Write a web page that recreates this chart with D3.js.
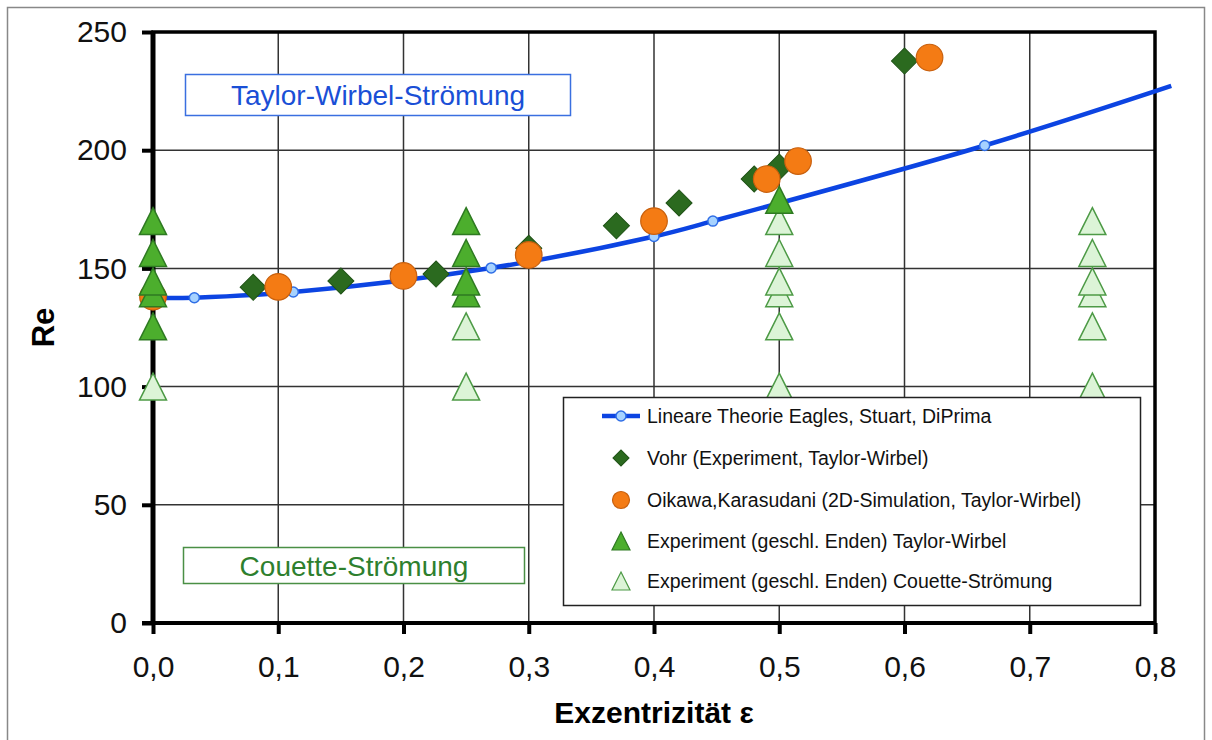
<!DOCTYPE html>
<html>
<head>
<meta charset="utf-8">
<script src="https://cdn.jsdelivr.net/npm/d3@7"></script>
<style>
  body { margin: 0; background: #fff; }
  svg { font-family: "Liberation Sans", Arial, sans-serif; }
</style>
</head>
<body>
<svg width="1212" height="740"></svg>
<script>
const width = 1212;
const height = 740;
const margin = { top: 32, right: 57, bottom: 117, left: 153 };

// linear theory (Eagles, Stuart, DiPrima)
const lineEps = [0, 0.033, 0.112, 0.27, 0.4, 0.447, 0.664, 0.813];
const lineRe = [137.5, 137.6, 140, 150.2, 163.5, 170, 202, 227.2];

// Vohr experiment
const vohrEps = [0.08, 0.15, 0.226, 0.3, 0.37, 0.42, 0.48, 0.5, 0.6];
const vohrRe = [142, 144.7, 147.6, 158.5, 168, 177.7, 187.8, 192.9, 237.7];

// Oikawa, Karasudani
const oikawaEps = [0, 0.1, 0.2, 0.3, 0.4, 0.49, 0.515, 0.62];
const oikawaRe = [138, 142.2, 146.8, 155.7, 170, 187.8, 195.4, 239.2];

// closed ends, Couette flow (drawn first)
const couetteEps = [0, 0.25, 0.25, 0.5, 0.5, 0.5, 0.5, 0.5, 0.5, 0.75, 0.75, 0.75, 0.75, 0.75, 0.75];
const couetteRe = [100, 100, 125.5, 100, 125.5, 139.5, 144.5, 156.5, 170, 100, 125.5, 139.5, 144.5, 156.5, 170];

// closed ends, Taylor vortices
const taylorEps = [0, 0, 0, 0, 0, 0.25, 0.25, 0.25, 0.25, 0.5];
const taylorRe = [125.5, 139.5, 144.5, 156.5, 170, 139.5, 144.5, 156.5, 170, 179];

const xTicks = [0, 0.1, 0.2, 0.3, 0.4, 0.5, 0.6, 0.7, 0.8];
const yTicks = [0, 50, 100, 150, 200, 250];

const legendLabels = [
  "Lineare Theorie Eagles, Stuart, DiPrima",
  "Vohr (Experiment, Taylor-Wirbel)",
  "Oikawa,Karasudani (2D-Simulation, Taylor-Wirbel)",
  "Experiment (geschl. Enden) Taylor-Wirbel",
  "Experiment (geschl. Enden) Couette-Strömung"
];

const svg = d3.select("svg");

const x = d3.scaleLinear().domain([0, 0.8]).range([margin.left, width - margin.right]);
const y = d3.scaleLinear().domain([0, 250]).range([height - margin.bottom, margin.top]);

// outer frame
svg.append("rect")
  .attr("x", 7.5).attr("y", 7.5)
  .attr("width", 1197).attr("height", 760)
  .attr("fill", "none").attr("stroke", "#888").attr("stroke-width", 1.5);

// grid
svg.append("g").selectAll("line")
  .data(xTicks.slice(1, -1))
  .join("line")
  .attr("x1", d => x(d)).attr("x2", d => x(d))
  .attr("y1", y(0)).attr("y2", y(250))
  .attr("stroke", "#333").attr("stroke-width", 1.5);

svg.append("g").selectAll("line")
  .data(yTicks.slice(1, -1))
  .join("line")
  .attr("x1", x(0)).attr("x2", x(0.8))
  .attr("y1", d => y(d)).attr("y2", d => y(d))
  .attr("stroke", "#333").attr("stroke-width", 1.5);

// region labels
function boxLabel(bx, by, bw, bh, text, col, border) {
  svg.append("rect")
    .attr("x", bx).attr("y", by).attr("width", bw).attr("height", bh)
    .attr("fill", "#fff").attr("stroke", border).attr("stroke-width", 1.5);
  svg.append("text")
    .attr("x", bx + bw / 2).attr("y", by + bh / 2 + 10)
    .attr("text-anchor", "middle")
    .attr("font-size", 28)
    .attr("fill", col)
    .text(text);
}
boxLabel(185.5, 74.5, 385, 41, "Taylor-Wirbel-Strömung", "#1a4fd6", "#3a6fe0");
boxLabel(183.5, 547.5, 341, 36, "Couette-Strömung", "#2e7f2e", "#4a8f45");

// plot frame + axes
svg.append("rect")
  .attr("x", x(0)).attr("y", y(250))
  .attr("width", x(0.8) - x(0)).attr("height", y(0) - y(250))
  .attr("fill", "none").attr("stroke", "#000").attr("stroke-width", 3.5);

const fmt = d => d3.format(".1f")(d).replace(".", ",");

const xAxis = svg.append("g")
  .attr("transform", `translate(0,${y(0)})`)
  .call(d3.axisBottom(x).tickValues(xTicks).tickFormat(fmt).tickSize(11).tickPadding(22));

const yAxis = svg.append("g")
  .attr("transform", `translate(${x(0)},0)`)
  .call(d3.axisLeft(y).tickValues(yTicks).tickSize(11).tickPadding(15));

[xAxis, yAxis].forEach(g => {
  g.select(".domain").remove();
  g.selectAll(".tick line").attr("stroke", "#000").attr("stroke-width", 4);
  g.selectAll(".tick text")
    .attr("font-family", "'Liberation Sans', Arial, sans-serif")
    .attr("font-size", 30).attr("fill", "#111");
});

svg.append("line")
  .attr("x1", x(0)).attr("x2", x(0))
  .attr("y1", y(250) - 1).attr("y2", y(0) + 2)
  .attr("stroke", "#000").attr("stroke-width", 5);
svg.append("line")
  .attr("x1", x(0) - 11).attr("x2", x(0.8))
  .attr("y1", y(0)).attr("y2", y(0))
  .attr("stroke", "#000").attr("stroke-width", 4);

// axis titles
svg.append("text")
  .attr("transform", `translate(54,${(y(0) + y(250)) / 2}) rotate(-90)`)
  .attr("text-anchor", "middle")
  .attr("font-size", 31).attr("font-weight", "bold")
  .text("Re");

svg.append("text")
  .attr("x", (x(0) + x(0.8)) / 2).attr("y", 723)
  .attr("text-anchor", "middle")
  .attr("font-size", 30).attr("font-weight", "bold")
  .text("Exzentrizität ε");

// theory line
const linePts = lineEps.map((e, i) => [e, lineRe[i]]);
svg.append("path")
  .datum(linePts)
  .attr("fill", "none")
  .attr("stroke", "#0c44e2")
  .attr("stroke-width", 4.5)
  .attr("d", d3.line().x(d => x(d[0])).y(d => y(d[1])).curve(d3.curveCatmullRom));

svg.append("g").selectAll("circle")
  .data(linePts.filter(d => d[0] <= 0.8))
  .join("circle")
  .attr("cx", d => x(d[0])).attr("cy", d => y(d[1]))
  .attr("r", 5)
  .attr("fill", "#a6d2ff").attr("stroke", "#2f6ee6").attr("stroke-width", 1.5);

// symbols
const diamond = d3.symbol().type(d3.symbolSquare).size(340)();
const tri = "M0,-13.5L13.5,13.5L-13.5,13.5Z";

svg.append("g").selectAll("path")
  .data(vohrEps.map((e, i) => [e, vohrRe[i]]))
  .join("path")
  .attr("d", diamond)
  .attr("transform", d => `translate(${x(d[0])},${y(d[1])}) rotate(45)`)
  .attr("fill", "#2b6a1f").attr("stroke", "#1f5216").attr("stroke-width", 1);

svg.append("g").selectAll("circle")
  .data(oikawaEps.map((e, i) => [e, oikawaRe[i]]))
  .join("circle")
  .attr("cx", d => x(d[0])).attr("cy", d => y(d[1]))
  .attr("r", 13.3)
  .attr("fill", "#f47b14").attr("stroke", "#c8600e").attr("stroke-width", 1.2);

svg.append("g").selectAll("path")
  .data(couetteEps.map((e, i) => [e, couetteRe[i]]))
  .join("path")
  .attr("d", tri)
  .attr("transform", d => `translate(${x(d[0])},${y(d[1])})`)
  .attr("fill", "#dcf4d7").attr("stroke", "#4d9a46").attr("stroke-width", 1.5);

svg.append("g").selectAll("path")
  .data(taylorEps.map((e, i) => [e, taylorRe[i]]))
  .join("path")
  .attr("d", tri)
  .attr("transform", d => `translate(${x(d[0])},${y(d[1])})`)
  .attr("fill", "#4cae2d").attr("stroke", "#2e7a22").attr("stroke-width", 1.5);

// legend
const lg = svg.append("g");
lg.append("rect")
  .attr("x", 563.5).attr("y", 397.5).attr("width", 577).attr("height", 208)
  .attr("fill", "#fff").attr("stroke", "#222").attr("stroke-width", 1.5);

const rowY = [416, 458, 500, 541, 581];
const mx = 621;

lg.append("line")
  .attr("x1", mx - 19).attr("x2", mx + 19)
  .attr("y1", rowY[0]).attr("y2", rowY[0])
  .attr("stroke", "#0c44e2").attr("stroke-width", 4.5);
lg.append("circle")
  .attr("cx", mx).attr("cy", rowY[0]).attr("r", 5)
  .attr("fill", "#a6d2ff").attr("stroke", "#2f6ee6").attr("stroke-width", 1.5);

lg.append("path")
  .attr("d", d3.symbol().type(d3.symbolSquare).size(130)())
  .attr("transform", `translate(${mx},${rowY[1]}) rotate(45)`)
  .attr("fill", "#2b6a1f").attr("stroke", "#1f5216");

lg.append("circle")
  .attr("cx", mx).attr("cy", rowY[2]).attr("r", 8.5)
  .attr("fill", "#f47b14").attr("stroke", "#c8600e").attr("stroke-width", 1.2);

const triSmall = "M0,-9L9,9L-9,9Z";
lg.append("path")
  .attr("d", triSmall)
  .attr("transform", `translate(${mx},${rowY[3]})`)
  .attr("fill", "#4cae2d").attr("stroke", "#2e7a22").attr("stroke-width", 1.2);
lg.append("path")
  .attr("d", triSmall)
  .attr("transform", `translate(${mx},${rowY[4]})`)
  .attr("fill", "#dcf4d7").attr("stroke", "#4d9a46").attr("stroke-width", 1.2);

lg.selectAll("text.leg")
  .data(legendLabels)
  .join("text")
  .attr("class", "leg")
  .attr("x", 647)
  .attr("y", (d, i) => rowY[i] + 7)
  .attr("font-size", 19.5)
  .attr("fill", "#111")
  .text(d => d);
</script>
</body>
</html>
